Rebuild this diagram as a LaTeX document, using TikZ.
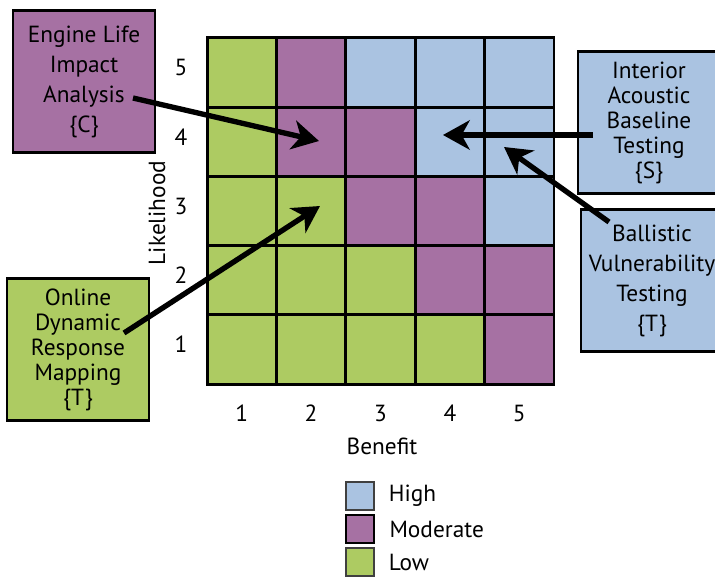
\documentclass[tikz,border=0pt]{standalone}
\usepackage{fontspec}
\setmainfont{PT Sans}
\usetikzlibrary{arrows.meta,positioning}

\definecolor{lowgreen}{RGB}{173,203,98}
\definecolor{modpurple}{RGB}{166,113,163}
\definecolor{highblue}{RGB}{170,195,225}

\tikzset{
	cell/.style = {draw=black, line width=2.2pt, minimum size=52pt, inner sep=0pt},
	project/.style = {draw=black, line width=2.2pt, align=center, minimum width=106.5pt, minimum height=106pt, inner sep=0pt},
	tight/.style = {font=\fontsize{17.5}{18.75}\selectfont},
	loose/.style = {font=\fontsize{17.5}{22.5}\selectfont},
	pointer/.style = {line width=4pt, -{Stealth[length=20pt, width=22pt, inset=6pt]}},
	legendkey/.style = {minimum size=21pt, inner sep=0pt},
	legendtext/.style = {inner ysep=0.5pt}
}

\begin{document}
\begin{tikzpicture}[x=0.75pt, y=-0.75pt, every node/.style={font=\fontsize{17.5}{22.5}\selectfont}]
	\useasboundingbox (0,0) rectangle (715,577);
	% risk grid
	\foreach \row/\shades in {5/{lowgreen,modpurple,highblue,highblue,highblue},
			4/{lowgreen,modpurple,modpurple,highblue,highblue},
			3/{lowgreen,lowgreen,modpurple,modpurple,highblue},
			2/{lowgreen,lowgreen,lowgreen,modpurple,modpurple},
			1/{lowgreen,lowgreen,lowgreen,lowgreen,modpurple}}
		\foreach \shade [count=\col] in \shades
			\node[cell, fill=\shade] (c\col\row) at ({207+69.4*(\col-0.5)}, {384-69.2*(\row-0.5)}) {};
	\foreach \n in {1,...,5} {
		\node (x\n) at ({207+69.4*(\n-0.5)}, 413) {\n};
		\node (y\n) at (181, {379-69.2*(\n-0.5)}) {\n};
	}
	\node[rotate=90] (likelihood) at (157, 213) {Likelihood};
	\node (benefit) at (382, 446) {Benefit};

	% projects
	\node[project, loose, fill=modpurple] (engine) at (84, 81.5) {Engine Life\\Impact\\Analysis\\\{C\}};
	\node[project, tight, fill=highblue] (interior) at (649, 122.5) {Interior\\Acoustic\\Baseline\\Testing\\\{S\}};
	\node[project, loose, fill=highblue] (ballistic) at (652, 280.5) {Ballistic\\Vulnerability\\Testing\\\{T\}};
	\node[project, tight, fill=lowgreen] (online) at (78, 349.5) {Online\\Dynamic\\Response\\Mapping\\\{T\}};

	\coordinate (engine tail) at (133, 98);
	\coordinate (engine tip) at (319, 141);
	\coordinate (interior tail) at (593, 135);
	\coordinate (interior tip) at (443, 135);
	\coordinate (ballistic tail) at (609, 222);
	\coordinate (ballistic tip) at (504, 147);
	\coordinate (online tail) at (124, 333);
	\coordinate (online tip) at (320, 206);
	\draw[pointer] (engine tail) -- (engine tip);
	\draw[pointer] (interior tail) -- (interior tip);
	\draw[pointer] (ballistic tail) -- (ballistic tip);
	\draw[pointer] (online tail) -- (online tip);

	% legend
	\node[legendkey, draw=darkgray, line width=1.2pt, fill=highblue] (high) at (360, 496) {};
	\node[legendkey, draw=black, line width=2.2pt, fill=modpurple] (moderate) at (360, 529) {};
	\node[legendkey, draw=darkgray, line width=1.2pt, fill=lowgreen] (low) at (360, 562) {};
	\node[legendtext, right=7pt of high] (high text) {High};
	\node[legendtext, right=7pt of moderate] (moderate text) {Moderate};
	\node[legendtext, right=7pt of low] (low text) {Low};
\end{tikzpicture}
\end{document}
